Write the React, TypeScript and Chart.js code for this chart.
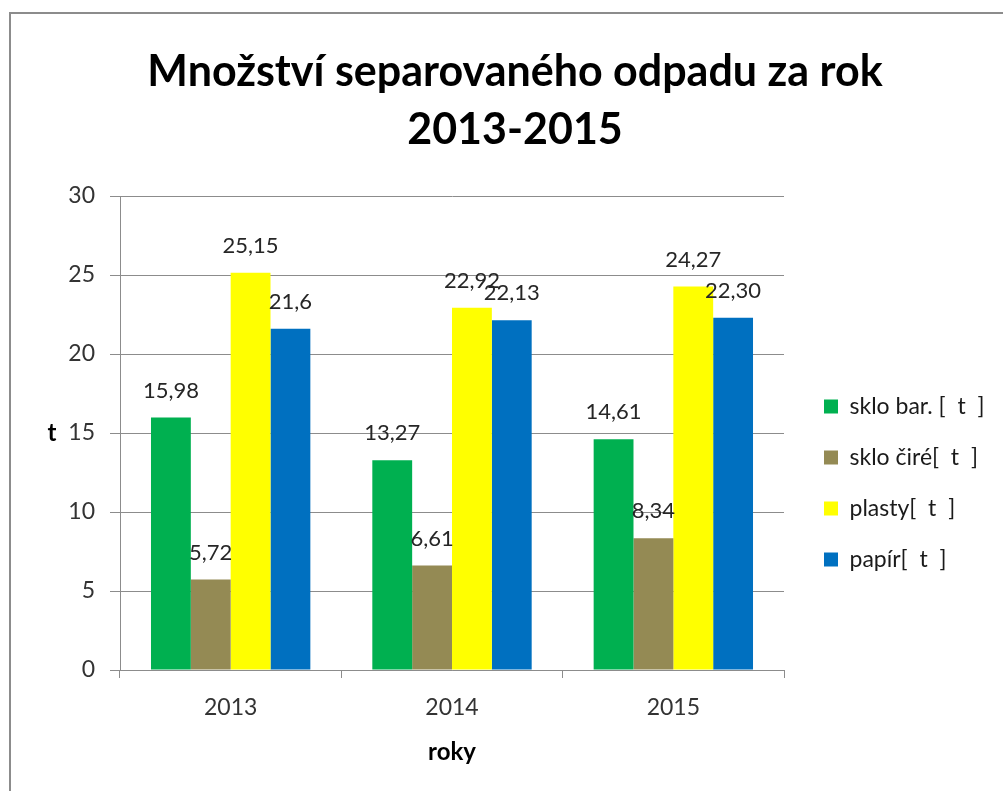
import React, { useEffect, useRef } from 'react';
import { Chart, registerables } from 'chart.js';

Chart.register(...registerables);

// ---- data ----
const categories = ['2013', '2014', '2015'];
const seriesNames = ['sklo bar. [  t  ]', 'sklo čiré[  t  ]', 'plasty[  t  ]', 'papír[  t  ]'];
const skloBarValues = [15.98, 13.27, 14.61];
const skloCireValues = [5.72, 6.61, 8.34];
const plastyValues = [25.15, 22.92, 24.27];
const papirValues = [21.6, 22.13, 22.3];
const skloBarLabels = ['15,98', '13,27', '14,61'];
const skloCireLabels = ['5,72', '6,61', '8,34'];
const plastyLabels = ['25,15', '22,92', '24,27'];
const papirLabels = ['21,6', '22,13', '22,30'];
const seriesColors = ['#00b050', '#948a54', '#ffff00', '#0070c0'];
const titleLines = ['Množství separovaného odpadu za rok', '2013-2015'];
const xTitle = 'roky';
const yTitle = 't';
const yMin = 0;
const yMax = 30;
const yStep = 5;

const FONT = 'Lato';
const CANVAS_W = 1012;
const CANVAS_H = 800;
const LEGEND_W = 225;
const GRID = '#8c8c8c';

const allValues = [skloBarValues, skloCireValues, plastyValues, papirValues];
const allLabels = [skloBarLabels, skloCireLabels, plastyLabels, papirLabels];

const backgroundPlugin = {
  id: 'bgBorder',
  beforeDraw(chart: any) {
    const { ctx, width, height } = chart;
    ctx.save();
    ctx.fillStyle = '#ffffff';
    ctx.fillRect(0, 0, width, height);
    ctx.strokeStyle = GRID;
    ctx.lineWidth = 2;
    ctx.strokeRect(1, 1, width, height);
    ctx.restore();
  },
};

const legendWidthPlugin = {
  id: 'legendWidth',
  beforeLayout(chart: any) {
    const lg = chart.legend;
    if (lg && !lg.__fixedWidth) {
      const orig = lg.fit;
      lg.fit = function () {
        orig.call(this);
        this.width = LEGEND_W;
      };
      lg.__fixedWidth = true;
    }
  },
};

const labelsPlugin = {
  id: 'valueLabels',
  afterDatasetsDraw(chart: any) {
    const { ctx, chartArea } = chart;
    ctx.save();
    ctx.font = `22px ${FONT}`;
    ctx.fillStyle = '#262626';
    ctx.textAlign = 'center';
    ctx.textBaseline = 'middle';
    chart.data.datasets.forEach((_ds: any, i: number) => {
      const meta = chart.getDatasetMeta(i);
      meta.data.forEach((bar: any, j: number) => {
        ctx.fillText(allLabels[i][j], bar.x, bar.y - 27);
      });
    });
    // upright y-axis title
    ctx.font = `bold 24px ${FONT}`;
    ctx.fillStyle = '#000000';
    ctx.fillText(yTitle, 43, (chartArea.top + chartArea.bottom) / 2);
    ctx.restore();
  },
};

export default function App() {
  const ref = useRef<HTMLCanvasElement>(null);

  useEffect(() => {
    let chart: Chart | null = null;
    let cancelled = false;
    const build = () => {
      if (cancelled || !ref.current) return;
      chart = new Chart(ref.current, {
        type: 'bar',
        data: {
          labels: categories,
          datasets: seriesNames.map((name, i) => ({
            label: name,
            data: allValues[i],
            backgroundColor: seriesColors[i],
            borderWidth: 0,
            categoryPercentage: 0.72,
            barPercentage: 1,
          })),
        },
        options: {
          responsive: false,
          animation: false,
          devicePixelRatio: 1,
          layout: { padding: { left: 0, right: 0, top: 0, bottom: 41.2 } },
          font: { family: FONT },
          plugins: {
            tooltip: { enabled: false },
            title: {
              display: true,
              text: titleLines,
              color: '#000000',
              font: { family: FONT, size: 43, weight: 'bold', lineHeight: 58 / 43 },
              padding: { top: 31, bottom: 37 },
            },
            legend: {
              position: 'right',
              align: 'start',
              fullSize: false,
              title: {
                display: true,
                text: '',
                font: { family: FONT, size: 12, lineHeight: 1.2 },
                padding: { top: 0, bottom: 172 - 14.4 - 1 },
              },
              labels: {
                boxWidth: 14,
                boxHeight: 14,
                padding: 28,
                color: '#1a1a1a',
                font: { family: FONT, size: 23 },
              },
            },
          },
          scales: {
            x: {
              type: 'category',
              offset: true,
              grid: {
                display: true,
                offset: true,
                drawOnChartArea: false,
                drawTicks: true,
                tickLength: 8,
                color: GRID,
              },
              border: { display: true, color: GRID },
              ticks: { color: '#333333', font: { family: FONT, size: 23 }, padding: 16.2 },
              title: {
                display: true,
                text: xTitle,
                color: '#000000',
                font: { family: FONT, size: 24, weight: 'bold', lineHeight: 1.2 },
                padding: { top: 0, bottom: 4 },
              },
            },
            y: {
              type: 'linear',
              min: yMin,
              max: yMax,
              ticks: { stepSize: yStep, color: '#333333', font: { family: FONT, size: 23 }, padding: 15 },
              grid: { color: GRID, tickLength: 10, drawTicks: true },
              border: { display: true, color: GRID },
              afterFit: (s: any) => {
                s.width = 111;
              },
            },
            y2: {
              type: 'linear',
              position: 'right',
              display: true,
              grid: { display: false, drawTicks: false },
              ticks: { display: false },
              border: { display: false },
              afterFit: (s: any) => {
                s.width = 12;
              },
            },
          },
        } as any,
        plugins: [backgroundPlugin, legendWidthPlugin, labelsPlugin],
      });
    };
    const fontsApi = (document as any).fonts;
    if (fontsApi && fontsApi.load) {
      Promise.all([fontsApi.load(`23px ${FONT}`), fontsApi.load(`bold 43px ${FONT}`)]).then(build, build);
    } else {
      build();
    }
    return () => {
      cancelled = true;
      if (chart) chart.destroy();
    };
  }, []);

  return (
    <div
      style={{
        position: 'fixed',
        left: 0,
        top: 0,
        width: 1003,
        height: 791,
        overflow: 'hidden',
        background: '#ffffff',
      }}
    >
      <canvas
        ref={ref}
        width={CANVAS_W}
        height={CANVAS_H}
        style={{ position: 'absolute', left: 9, top: 12, width: CANVAS_W, height: CANVAS_H }}
      />
    </div>
  );
}
